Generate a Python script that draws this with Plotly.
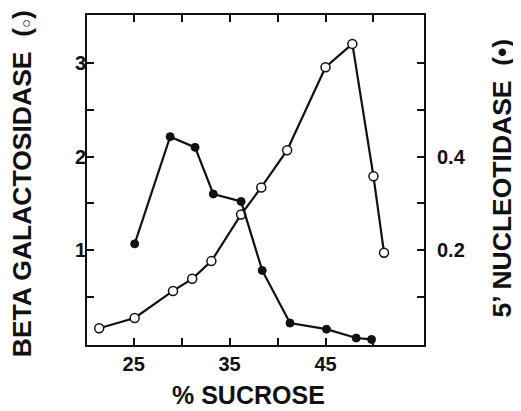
import plotly.graph_objects as go

sucrose_beta = [21.4, 25.1, 29.1, 31.1, 33.1, 36.2, 38.3, 41.0, 45.0, 47.8, 50.0, 51.1]
beta_gal = [0.16, 0.27, 0.56, 0.69, 0.88, 1.38, 1.67, 2.07, 2.96, 3.21, 1.79, 0.97]

sucrose_nuc = [25.1, 28.8, 31.4, 33.3, 36.2, 38.4, 41.3, 45.1, 48.2, 49.8]
nucleotidase = [0.213, 0.443, 0.42, 0.32, 0.304, 0.156, 0.043, 0.03, 0.011, 0.008]

x_ticks = [25, 30, 35, 40, 45, 50]
x_ticktext = ["25", "", "35", "", "45", ""]
y_ticks = [0.5, 1, 1.5, 2, 2.5, 3]
y_ticktext = ["", "1", "", "2", "", "3"]
y2_ticks = [0.1, 0.2, 0.3, 0.4, 0.5, 0.6]
y2_ticktext = ["", "0.2", "", "0.4", "", ""]

FONT = "Liberation Sans, Arial, sans-serif"
BLACK = "#111111"


def bold(labels):
    return ["<b>%s</b>" % t if t else "" for t in labels]


fig = go.Figure()
fig.add_trace(go.Scatter(
    x=sucrose_nuc, y=nucleotidase, yaxis="y2", mode="lines+markers",
    line=dict(color=BLACK, width=2.2),
    marker=dict(symbol="circle", size=8, color=BLACK, line=dict(color=BLACK, width=1)),
    showlegend=False, cliponaxis=False))
fig.add_trace(go.Scatter(
    x=sucrose_beta, y=beta_gal, mode="lines+markers",
    line=dict(color=BLACK, width=2.2),
    marker=dict(symbol="circle", size=9, color="white", line=dict(color=BLACK, width=1.5)),
    showlegend=False, cliponaxis=False))

tickfont = dict(family=FONT, size=20, color=BLACK)
fig.update_layout(
    width=513, height=403,
    margin=dict(l=79, r=97, t=7, b=66),
    paper_bgcolor="white", plot_bgcolor="white",
    xaxis=dict(range=[20.13, 55.27], tickvals=x_ticks, ticktext=bold(x_ticktext),
               ticks="inside", ticklen=7, tickwidth=1.5, tickcolor=BLACK,
               showline=True, linecolor=BLACK, linewidth=1.8, mirror="ticks",
               showgrid=False, zeroline=False, tickfont=tickfont, automargin=False),
    yaxis=dict(range=[-0.02, 3.52], tickvals=y_ticks, ticktext=bold(y_ticktext),
               ticks="inside", ticklen=7, tickwidth=1.5, tickcolor=BLACK,
               showline=True, linecolor=BLACK, linewidth=1.8, mirror=True,
               showgrid=False, zeroline=False, tickfont=tickfont, automargin=False,
               ticklabelstandoff=-5),
    yaxis2=dict(range=[-0.004, 0.704], overlaying="y", side="right",
                tickvals=y2_ticks, ticktext=bold(y2_ticktext),
                ticks="inside", ticklen=7, tickwidth=1.5, tickcolor=BLACK,
                showline=False, showgrid=False, zeroline=False, tickfont=tickfont,
                automargin=False, ticklabelstandoff=12),
    annotations=[
        dict(text="<b>% SUCROSE</b>", xref="paper", yref="paper", x=0.478, y=-0.153,
             xanchor="center", yanchor="middle", showarrow=False,
             font=dict(family=FONT, size=25, color=BLACK)),
        dict(text="<b>BETA GALACTOSIDASE  (<span style='font-size:15px'>○</span>)</b>",
             xref="paper", yref="paper",
             x=-0.193, y=0.49, xanchor="center", yanchor="middle", textangle=-90,
             showarrow=False, font=dict(family=FONT, size=26.5, color=BLACK)),
        dict(text="<b>5’ NUCLEOTIDASE  (•)</b>", xref="paper", yref="paper",
             x=1.232, y=0.505, xanchor="center", yanchor="middle", textangle=-90,
             showarrow=False, font=dict(family=FONT, size=26.5, color=BLACK)),
    ],
)
fig.write_html("out.html")
